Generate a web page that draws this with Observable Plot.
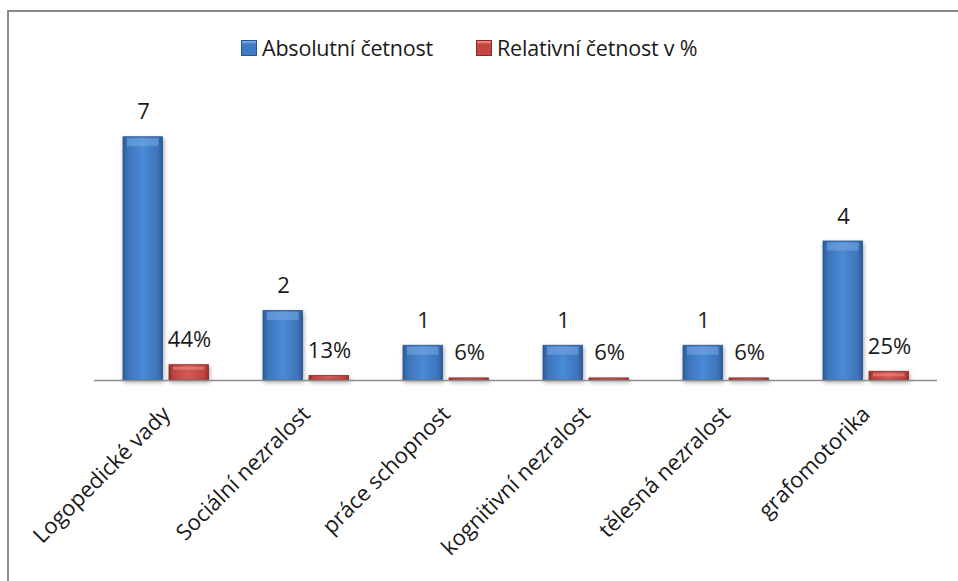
<!DOCTYPE html>
<html><head><meta charset="utf-8">
<script src="https://cdn.jsdelivr.net/npm/d3@7"></script>
<script src="https://cdn.jsdelivr.net/npm/@observablehq/plot@0.6"></script>
<style>
body{margin:0;background:#fff;font-family:"Open Sans",sans-serif;}
#wrap{position:relative;width:958px;height:581px;overflow:hidden;background:#fff;}
#frame{position:absolute;left:7px;top:10px;right:-5px;bottom:-5px;border-top:2px solid #8c8c8c;border-left:2px solid #8c8c8c;pointer-events:none;}
#legend{position:relative;height:80px;}
.item{position:absolute;top:34px;display:flex;align-items:center;font-size:21.5px;color:#1a1a1a;line-height:28px;letter-spacing:-0.2px;white-space:nowrap;}
.sw{flex:0 0 16px;display:block;width:16px;min-width:16px;height:16px;margin-right:5px;box-sizing:border-box;}
.sw.b{background:#3f79c2;border:1px solid #2a5590;box-shadow:inset 0 4px 2px -2px #78aae6;}
.sw.r{background:#c4473f;border:1px solid #8a2a28;box-shadow:inset 0 4px 2px -2px #ee8a86;}
#plot svg .bar rect{filter:drop-shadow(1px 2px 2px rgba(0,0,0,0.35));}
</style></head><body>
<div id="wrap">
  <div id="legend"></div>
  <div id="plot"></div>
  <div id="frame"></div>
</div>
<script>
const categories = ["Logopedické vady","Sociální nezralost","práce schopnost","kognitivní nezralost","tělesná nezralost","grafomotorika"];
const absoluteValues = [7, 2, 1, 1, 1, 4];
const relativeValues = [0.44, 0.13, 0.06, 0.06, 0.06, 0.25];
const relativeLabels = ["44%", "13%", "6%", "6%", "6%", "25%"];
const seriesNames = ["Absolutní četnost", "Relativní četnost v %"];

const absRows = categories.map((c, i) => ({cat: c, v: absoluteValues[i], label: String(absoluteValues[i])}));
const relRows = categories.map((c, i) => ({cat: c, v: relativeValues[i], label: relativeLabels[i]}));

// legend
const legend = document.getElementById("legend");
[[seriesNames[0], "b", 241], [seriesNames[1], "r", 476]].forEach(([name, cls, left]) => {
  const it = document.createElement("div");
  it.className = "item";
  it.style.left = left + "px";
  it.innerHTML = `<div class="sw ${cls}"></div><span>${name}</span>`;
  legend.appendChild(it);
});

const blueInset = {insetLeft: 27, insetRight: 73.5};
const redInset = {insetLeft: 73, insetRight: 27.5};

const chart = Plot.plot({
  width: 958,
  height: 501,
  marginTop: 22,
  marginBottom: 201,
  marginLeft: 94,
  marginRight: 21,
  style: {fontFamily: "Open Sans, sans-serif", background: "transparent", overflow: "visible"},
  x: {domain: categories, padding: 0, label: null},
  y: {domain: [0, 8], axis: null},
  marks: [
    Plot.barY(absRows, {x: "cat", y: "v", fill: "url(#gBlue)", stroke: "#2a5590", strokeWidth: 0.8, className: "bar", ...blueInset}),
    Plot.barY(relRows, {x: "cat", y: "v", fill: "url(#gRed)", stroke: "#8a2a28", strokeWidth: 0.8, className: "bar", ...redInset}),
    Plot.tickY(absRows, {x: "cat", y: "v", stroke: "#78aae6", strokeOpacity: 0.55, strokeWidth: 8, dy: 5, insetLeft: 31, insetRight: 77.5}),
    Plot.tickY(relRows.filter(d => d.v > 0.2), {x: "cat", y: "v", stroke: "#ee8a86", strokeOpacity: 0.6, strokeWidth: 3, dy: 3, insetLeft: 77, insetRight: 31.5}),
    Plot.ruleY([0], {stroke: "#8c8c8c", strokeWidth: 1.5}),
    Plot.text(absRows, {x: "cat", y: "v", text: "label", dx: -23, dy: -25, fontSize: 22, fill: "#1a1a1a"}),
    Plot.text(relRows, {x: "cat", y: "v", text: "label", dx: 23, dy: -25, fontSize: 22, fill: "#1a1a1a"}),
    Plot.axisX({tickRotate: -45, tickSize: 0, tickPadding: 30, fontSize: 22, fill: "#1a1a1a", dx: 0})
  ]
});

const svg = d3.select(chart);
const defs = svg.insert("defs", ":first-child");
const gb = defs.append("linearGradient").attr("id", "gBlue").attr("x1", 0).attr("x2", 1).attr("y1", 0).attr("y2", 0);
[[0, "#2c5a96"], [0.12, "#3c74ba"], [0.5, "#4a8ad6"], [0.88, "#3c74ba"], [1, "#2c5a96"]].forEach(([o, c]) => gb.append("stop").attr("offset", o).attr("stop-color", c));
const gr = defs.append("linearGradient").attr("id", "gRed").attr("x1", 0).attr("x2", 1).attr("y1", 0).attr("y2", 0);
[[0, "#9a2e2c"], [0.12, "#bd4440"], [0.5, "#d45a55"], [0.88, "#bd4440"], [1, "#9a2e2c"]].forEach(([o, c]) => gr.append("stop").attr("offset", o).attr("stop-color", c));

document.getElementById("plot").appendChild(chart);
</script>
</body></html>
